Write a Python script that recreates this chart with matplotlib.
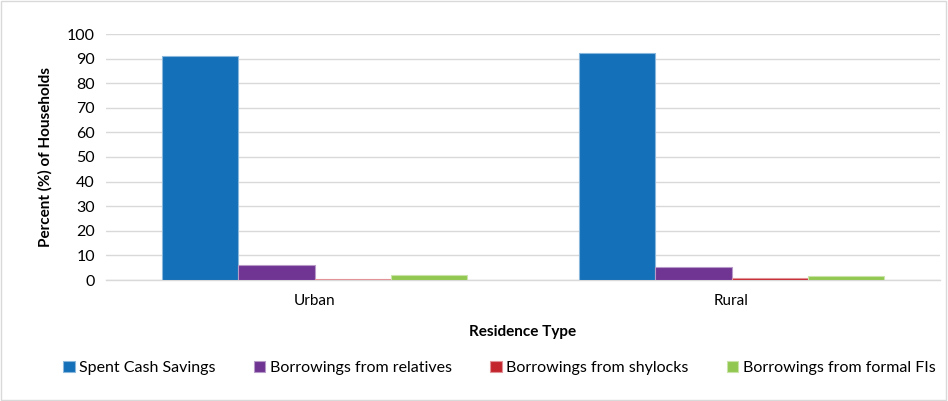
import matplotlib
matplotlib.use("Agg")
import matplotlib.pyplot as plt
from matplotlib.colors import to_rgb
import numpy as np

residence = ["Urban", "Rural"]
series_names = ["Spent Cash Savings", "Borrowings from relatives",
                "Borrowings from shylocks", "Borrowings from formal FIs"]
spent_cash = [91.0, 92.3]
relatives = [6.1, 5.3]
shylocks = [0.3, 0.9]
formal_fis = [2.0, 1.5]
colors = ["#1470b8", "#703593", "#c4262e", "#92c852"]
yticks = list(range(0, 101, 10))

plt.rcParams["font.family"] = ["Lato", "DejaVu Sans"]

fig = plt.figure(figsize=(9.48, 4.01), dpi=100)
ax = fig.add_axes([106 / 948, (401 - 280) / 401, (940 - 106) / 948, (280 - 34) / 401])


def lighten(c, f=0.5):
    r = np.array(to_rgb(c))
    return tuple(r + (1 - r) * f)


x = np.arange(len(residence))
width = 0.183
values = [spent_cash, relatives, shylocks, formal_fis]
for i, (name, vals, col) in enumerate(zip(series_names, values, colors)):
    ax.bar(x + (i - 1.5) * width, vals, width, color=col, label=name,
           edgecolor=lighten(col), linewidth=0.8, zorder=3)

ax.set_xlim(-0.5, 1.5)
ax.set_ylim(0, 100)
ax.set_yticks(yticks)
ax.set_xticks(x)
ax.set_xticklabels(residence, fontsize=11)
ax.tick_params(axis="y", labelsize=11.5, length=0, pad=8)
ax.tick_params(axis="x", length=0, pad=10)
ax.grid(axis="y", color="#d9d9d9", linewidth=1, zorder=0)
for s in ["top", "right", "left"]:
    ax.spines[s].set_visible(False)
ax.spines["bottom"].set_color("#d9d9d9")
ax.spines["bottom"].set_linewidth(1)

ax.set_ylabel("Percent (%) of Households", fontsize=11, fontweight="bold", labelpad=10)
ax.set_xlabel("Residence Type", fontsize=11, fontweight="bold", labelpad=12)

fig.legend(loc="center", bbox_to_anchor=(0.527, 0.083), ncol=4, frameon=False,
           fontsize=11.5, handlelength=0.7, handleheight=0.7, handletextpad=0.3,
           columnspacing=2.4)

fig.patches.append(plt.Rectangle((0.001, 0.002), 0.997, 0.996, transform=fig.transFigure,
                                 fill=False, edgecolor="#d9d9d9", linewidth=1))

fig.savefig("out.png", dpi=100)
